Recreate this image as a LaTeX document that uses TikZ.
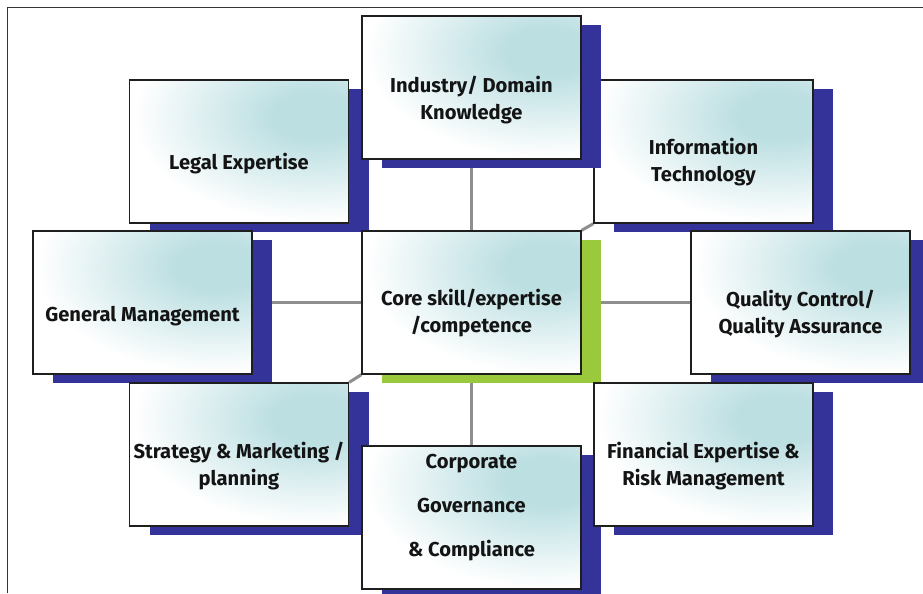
\documentclass[tikz,border=0pt]{standalone}
\usepackage{fontspec}
\setmainfont{Fira Sans}
\usetikzlibrary{shadows}

\definecolor{tealtint}{HTML}{BCDFE2}
\definecolor{navy}{HTML}{333399}
\definecolor{leafgreen}{HTML}{9AC93B}
\definecolor{linkgray}{HTML}{8E8E8E}
\definecolor{boxline}{HTML}{1F1F1F}
\definecolor{inktext}{HTML}{141414}

% teal glow with a flat core that fades to white well inside the path
\pgfdeclareradialshading{tealglow}{\pgfpoint{0bp}{0bp}}{%
  color(0bp)=(tealtint); color(4bp)=(tealtint);
  color(18bp)=(white); color(50bp)=(white)}

\pgfdeclarelayer{links}
\pgfsetlayers{links,main}

\tikzset{
  x=0.75pt, y=-0.75pt,
  skillbox/.style={
    fill=white, draw=boxline, line width=1pt,
    minimum width=164.25pt, minimum height=107.25pt, inner sep=0pt,
    path picture={
      \shade[shading=tealglow]
        ([shift={(-35,36)}]path picture bounding box.north east)
        ellipse (188pt and 110pt);},
    general shadow={fill=#1, shadow xshift=15pt, shadow yshift=-6.75pt}},
  skillbox/.default=navy,
  skilltext/.style={
    text=inktext, align=center, inner sep=0pt,
    font=\bfseries\fontsize{15.1}{20.25}\selectfont},
  link/.style={draw=linkgray, line width=2.25pt},
  frameline/.style={draw=boxline!90, line width=1pt}
}

\begin{document}
\begin{tikzpicture}
\useasboundingbox (0,0) rectangle (923,593);

% open frame: left and top edges
\draw[frameline] (7.5,593) -- (7.5,7.5) -- (923,7.5);

% boxes, in stacking order
\node[skillbox] (legal) at (239,151.5) {};
\node[skillbox] (it)    at (703.5,151.5) {};
\node[skillbox] (ind)   at (471.5,87.5) {};
\node[skillbox] (gm)    at (142.5,302.5) {};
\node[skillbox=leafgreen] (core) at (471.5,302.5) {};
\node[skillbox] (qa)    at (800.5,302.5) {};
\node[skillbox] (strat) at (239,454.5) {};
\node[skillbox] (corp)  at (471.5,517.5) {};
\node[skillbox] (fin)   at (703.5,454.5) {};

% labels
\node[skilltext] (legal-t) at (239,164) {Legal Expertise};
\node[skilltext] (it-t)    at (703.5,162.5) {Information\\Technology};
\node[skilltext] (ind-t)   at (471.5,100.5) {Industry/ Domain\\Knowledge};
\node[skilltext] (gm-t)    at (142.5,316) {General Management};
\node[skilltext] (core-t)  at (471.5,313.5) {Core skill/expertise\\/competence};
\node[skilltext] (qa-t)    at (800.5,314.5) {Quality Control/\\Quality Assurance};
\node[skilltext] (strat-t) at (239,466.5) {Strategy \& Marketing /\\planning};
\node[skilltext] (fin-t)   at (703.5,466.5) {Financial Expertise \&\\Risk Management};
\node[skilltext, font=\bfseries\fontsize{15.1}{33}\selectfont] (corp-t) at (471.5,507.5)
  {Corporate\\Governance\\\& Compliance};

% connectors behind the boxes
\begin{pgfonlayer}{links}
  \draw[link] (ind.south) -- (core.north);
  \draw[link] (core.south) -- (corp.north);
  \draw[link] (gm.east) -- (core.west);
  \draw[link] (core.east) -- (qa.west);
  \draw[link] (core.north east) -- (it.south west);
  \draw[link] (core.south west) -- (strat.north east);
\end{pgfonlayer}
\end{tikzpicture}
\end{document}
